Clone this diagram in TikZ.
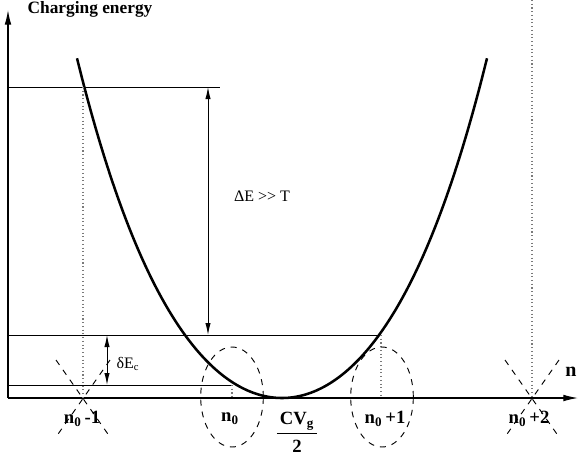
\documentclass[tikz,border=0pt]{standalone}
\usepackage{fontspec}
\setmainfont{Liberation Serif}
\usetikzlibrary{arrows.meta, shapes.geometric, calc}
\definecolor{tinta}{HTML}{000000}
\definecolor{tinta2}{HTML}{7A7A7A}
\tikzset{
  eje/.style={line width=0.9pt, -{Latex[length=11pt, width=5pt]}, color=tinta},
  flecha/.style={line width=0.7pt, {Latex[length=9pt, width=4pt]}-{Latex[length=9pt, width=4pt]}, color=tinta},
  nivel/.style={line width=0.7pt, color=tinta},
  curva/.style={line width=1.9pt, color=tinta},
  punteada/.style={line width=0.8pt, dotted, color=tinta2},
  cruz/.style={line width=0.7pt, dash pattern=on 4.5pt off 4.5pt, color=tinta},
  nube/.style={ellipse, draw, line width=0.7pt, dash pattern=on 4.5pt off 4.5pt,
               minimum width=47pt, minimum height=75pt, inner sep=0pt},
  etiq/.style={font=\bfseries\fontsize{14}{16}\selectfont, inner sep=1pt},
  texto/.style={font=\fontsize{12}{14}\selectfont, inner sep=1pt}
}

\begin{document}
\begin{tikzpicture}[x=0.75pt, y=-0.75pt]
  \useasboundingbox (0,0) rectangle (578,457);
  % ejes
  \coordinate (origen) at (8,398);
  \coordinate (ytop) at (8,10);
  \coordinate (xfin) at (578,398);
  \draw [eje] (origen) -- (ytop);
  \draw [eje] (origen) -- (xfin);
  \node (titulo) [etiq, font=\bfseries\fontsize{13}{15}\selectfont] at (90,9) {Charging energy};
  \node (ene) [etiq, font=\bfseries\fontsize{15}{17}\selectfont] at (571,372) {n};

  % niveles
  \coordinate (E2a) at (8,87);   \coordinate (E2b) at (220,87);
  \coordinate (E1a) at (8,335);  \coordinate (E1b) at (380,335);
  \coordinate (E0a) at (8,385);  \coordinate (E0b) at (232,385);
  \draw [nivel] (E2a) -- (E2b);
  \draw [nivel] (E1a) -- (E1b);
  \draw [nivel] (E0a) -- (E0b);

  % parabola
  \draw [curva] plot [domain=-2.05:2.05, samples=90, smooth]
    ({282+100*\x}, {398-(62.9*\x*\x+4.27*\x*\x*\x*\x)});

  % verticales punteadas
  \draw [punteada] (83,87) -- (83,398);
  \draw [punteada] (232,385) -- (232,398);
  \draw [punteada] (381,335) -- (381,398);
  \draw [punteada] (532,0) -- (532,398);

  % flechas de energia
  \coordinate (dEa) at (208,87);  \coordinate (dEb) at (208,335);
  \coordinate (dea) at (107,335); \coordinate (deb) at (107,385);
  \draw [flecha] (dEa) -- (dEb);
  \draw [flecha] (dea) -- (deb);
  \node (dElbl) [texto] at (262,196) {ΔE {>}{>} T};
  \node (delbl) [texto] at (128,364) {δE\textsubscript{c}};

  % estados
  \node (nube0) [nube] at (232,397) {};
  \node (nube1) [nube] at (382,397) {};
  \draw [cruz] (56,360) -- (110,437);
  \draw [cruz] (110,360) -- (56,437);
  \draw [cruz] (505,360) -- (559,437);
  \draw [cruz] (559,360) -- (505,437);
  \node (nm1) [etiq] at (82,419) {n\textsubscript{0}\,-1};
  \node (n0) [etiq] at (230,419) {n\textsubscript{0}};
  \node (np1) [etiq] at (385,419) {n\textsubscript{0}\,+1};
  \node (np2) [etiq] at (529,419) {n\textsubscript{0}\,+2};
  \node (cvg) [etiq, inner sep=2pt] at (297,421) {CV\textsubscript{g}};
  \draw [nivel] (cvg.south west) -- (cvg.south east);
  \node (dos) [etiq] at (297,446) {2};
\end{tikzpicture}
\end{document}
